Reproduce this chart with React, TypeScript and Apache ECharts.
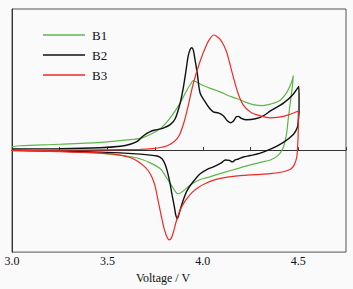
import React, { useEffect, useRef } from "react";
import * as echarts from "echarts";

// Cyclic voltammetry curves: [voltage (V), current (arbitrary units)]
const B1_ANODIC: [number, number][] = [
  [3.0, 0.35], [3.042, 0.45], [3.252, 0.6], [3.462, 0.8], [3.603, 1.05], [3.672, 1.2],
  [3.724, 1.6], [3.777, 2.2], [3.829, 3.3], [3.881, 4.8], [3.913, 6.0], [3.934, 6.7],
  [3.95, 7.1], [3.971, 6.9], [4.002, 6.6], [4.039, 6.3], [4.091, 5.95], [4.128, 5.6],
  [4.18, 5.25], [4.222, 4.9], [4.264, 4.65], [4.312, 4.55], [4.354, 4.7], [4.406, 5.1],
  [4.443, 6.0], [4.464, 6.9], [4.474, 7.6],
];
const B1_CATHODIC: [number, number][] = [
  [4.469, 6.5], [4.459, 5.0], [4.448, 3.3], [4.438, 1.6], [4.422, 0.3], [4.396, -0.5],
  [4.354, -1.0], [4.301, -1.25], [4.249, -1.5], [4.159, -2.0], [4.039, -2.7], [3.986, -3.0],
  [3.95, -3.35], [3.918, -3.8], [3.892, -4.25], [3.871, -4.45], [3.855, -4.2], [3.839, -3.7],
  [3.813, -2.9], [3.777, -1.9], [3.724, -1.3], [3.656, -0.8], [3.514, -0.4], [3.252, -0.1],
  [3.0, 0.0],
];

const B2_ANODIC: [number, number][] = [
  [3.0, 0.13], [3.252, 0.15], [3.462, 0.25], [3.567, 0.4], [3.619, 0.6], [3.656, 0.9],
  [3.687, 1.45], [3.724, 1.9], [3.761, 2.1], [3.792, 2.25], [3.829, 2.6], [3.855, 3.2],
  [3.881, 4.8], [3.897, 6.3], [3.913, 8.3], [3.923, 9.6], [3.934, 10.3], [3.942, 10.45],
  [3.95, 10.2], [3.96, 9.1], [3.971, 7.8], [3.986, 5.8], [4.013, 4.9], [4.034, 4.3],
  [4.055, 3.9], [4.081, 3.8], [4.107, 3.5], [4.128, 3.0], [4.144, 2.8], [4.159, 2.95],
  [4.175, 3.4], [4.186, 3.45], [4.201, 3.25], [4.228, 3.1], [4.275, 3.2], [4.317, 3.5],
  [4.354, 4.0], [4.422, 4.8], [4.469, 5.6], [4.503, 6.5],
];
const B2_CATHODIC: [number, number][] = [
  [4.504, 5.3], [4.504, 4.0], [4.5, 3.0], [4.495, 2.3], [4.474, 1.6], [4.422, 0.8],
  [4.354, 0.1], [4.301, -0.3], [4.249, -0.55], [4.212, -0.7], [4.186, -0.9], [4.17, -1.0],
  [4.154, -1.2], [4.139, -1.05], [4.118, -1.0], [4.097, -1.3], [4.055, -1.7], [4.023, -1.95],
  [3.986, -2.4], [3.95, -3.2], [3.918, -4.1], [3.897, -5.1], [3.881, -6.1], [3.871, -6.8],
  [3.866, -7.0], [3.858, -6.6], [3.85, -5.7], [3.839, -4.6], [3.829, -3.5], [3.818, -2.5],
  [3.803, -1.5], [3.787, -0.9], [3.761, -0.6], [3.672, -0.4], [3.462, -0.2], [3.0, -0.02],
];

const B3_ANODIC: [number, number][] = [
  [3.0, -0.03], [3.252, 0.0], [3.462, 0.03], [3.672, 0.08], [3.734, 0.15], [3.777, 0.27],
  [3.813, 0.45], [3.845, 0.8], [3.866, 1.2], [3.881, 1.7], [3.902, 2.9], [3.918, 4.1],
  [3.95, 6.8], [3.986, 9.1], [4.023, 10.9], [4.039, 11.4], [4.055, 11.75], [4.07, 11.65],
  [4.091, 11.3], [4.112, 10.6], [4.128, 9.8], [4.159, 7.5], [4.186, 5.7], [4.212, 4.6],
  [4.249, 3.9], [4.301, 3.5], [4.354, 3.3], [4.422, 3.45], [4.5, 4.0],
];
const B3_CATHODIC: [number, number][] = [
  [4.5, 2.3], [4.497, 0.5], [4.492, -0.7], [4.479, -1.5], [4.459, -1.95], [4.422, -2.2],
  [4.354, -2.4], [4.275, -2.5], [4.196, -2.6], [4.128, -2.75], [4.065, -3.0], [4.013, -3.4],
  [3.976, -3.8], [3.944, -4.3], [3.918, -4.9], [3.897, -5.5], [3.881, -6.1], [3.86, -7.3],
  [3.845, -8.4], [3.834, -9.0], [3.824, -9.15], [3.813, -8.9], [3.797, -8.0], [3.782, -6.7],
  [3.766, -5.2], [3.75, -3.7], [3.734, -2.8], [3.714, -2.1], [3.687, -1.55], [3.656, -1.1],
  [3.619, -0.75], [3.567, -0.5], [3.462, -0.3], [3.252, -0.15], [3.0, -0.05],
];

const SERIES_NAMES = ["B1", "B2", "B3"];
const SERIES_COLORS = ["#5cb848", "#111111", "#ee2a24"];
const X_MIN = 3.0;
const X_MAX = 4.75;
const X_INTERVAL = 0.25;
const AXIS_NAME = "Voltage / V";

export default function App() {
  const ref = useRef<HTMLDivElement>(null);
  useEffect(() => {
    document.body.style.margin = "0";
    if (!ref.current) return;
    const chart = echarts.init(ref.current, undefined, { renderer: "svg" });
    const font = "Liberation Serif";
    const curves = [
      [...B1_ANODIC, ...B1_CATHODIC],
      [...B2_ANODIC, ...B2_CATHODIC],
      [...B3_ANODIC, ...B3_CATHODIC],
    ];
    chart.setOption({
      animation: false,
      backgroundColor: "#fafafa",
      textStyle: { fontFamily: font },
      grid: {
        left: 12,
        right: 7,
        top: 9,
        bottom: 32,
        show: true,
        borderColor: "#555",
        borderWidth: 1,
      },
      legend: {
        orient: "vertical",
        left: 43,
        top: 28,
        padding: 0,
        icon: "rect",
        itemWidth: 42,
        itemHeight: 1.3,
        itemGap: 6,
        data: SERIES_NAMES,
        textStyle: {
          fontFamily: font,
          fontSize: 13,
          lineHeight: 14,
          color: "#111",
          padding: [0, 0, 0, 2],
        },
      },
      xAxis: {
        type: "value",
        min: X_MIN,
        max: X_MAX,
        interval: X_INTERVAL,
        name: AXIS_NAME,
        nameLocation: "middle",
        nameGap: 13,
        nameTextStyle: { fontFamily: font, fontSize: 12, color: "#111", padding: [0, 32, 0, 0] },
        axisLine: { show: true, lineStyle: { color: "#333", width: 1 } },
        axisTick: { show: true, inside: true, length: 3, lineStyle: { color: "#333" } },
        splitLine: { show: false },
        axisLabel: {
          fontFamily: font,
          fontSize: 12,
          color: "#111",
          margin: 3,
          formatter: (v: number) =>
            Math.abs(v * 2 - Math.round(v * 2)) < 1e-6 && v < X_MAX - 1e-6 ? v.toFixed(1) : "",
        },
      },
      yAxis: {
        type: "value",
        min: -10.4,
        max: 14.4,
        axisLine: { show: true, lineStyle: { color: "#333", width: 1 } },
        axisTick: { show: false },
        axisLabel: { show: false },
        splitLine: { show: false },
      },
      series: SERIES_NAMES.map((name, i) => ({
        name,
        type: "line",
        data: curves[i],
        symbol: "none",
        smooth: 0.3,
        color: SERIES_COLORS[i],
        lineStyle: { width: i === 1 ? 1.4 : 1.2, color: SERIES_COLORS[i] },
      })),
    });
    return () => chart.dispose();
  }, []);
  return <div ref={ref} style={{ width: 353, height: 289 }} />;
}
